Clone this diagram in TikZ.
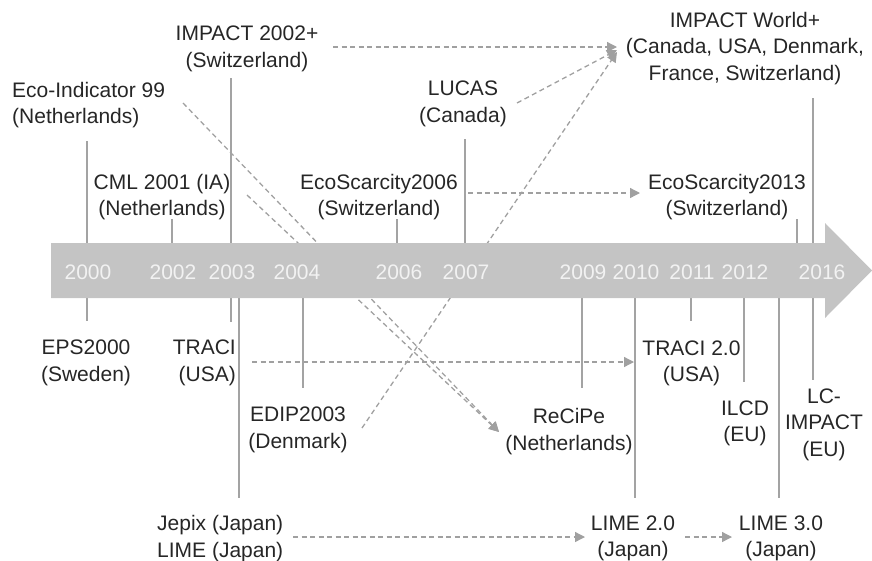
\documentclass[tikz,border=0pt]{standalone}
\usepackage{fontspec}
\setmainfont{Liberation Sans}
\usetikzlibrary{arrows.meta}
\definecolor{bandgray}{HTML}{C4C4C4}
\definecolor{stemgray}{HTML}{A3A3A3}
\definecolor{dashgray}{HTML}{A0A0A0}
\definecolor{yeartxt}{HTML}{F2F2F2}
\definecolor{labeltxt}{HTML}{262626}
\begin{document}
\begin{tikzpicture}[x=1pt,y=-1pt,
  lbl/.style={font=\fontsize{21}{26.5}\selectfont, text=labeltxt, inner sep=0pt, align=center},
  yr/.style={font=\fontsize{21}{24}\selectfont, text=yeartxt, inner sep=0pt},
  stem/.style={draw=stemgray, line width=2pt},
  dashar/.style={draw=dashgray, line width=1.3pt, dash pattern=on 5pt off 3.5pt, -{Triangle[length=10pt,width=10pt]}}
]
\useasboundingbox (0,0) rectangle (872,560);

% labels
\node[lbl] (impact02) at (247,49) {IMPACT 2002+\\(Switzerland)};
\node[lbl, anchor=west, align=left] (eco99) at (12,105) {Eco-Indicator 99\\(Netherlands)};
\node[lbl] (cml) at (162,197) {CML 2001 (IA)\\(Netherlands)};
\node[lbl] (eco06) at (379,197) {EcoScarcity2006\\(Switzerland)};
\node[lbl] (lucas) at (463,104) {LUCAS\\(Canada)};
\node[lbl] (impW) at (745,48.5) {IMPACT World+\\(Canada, USA, Denmark,\\France, Switzerland)};
\node[lbl] (eco13) at (727,197) {EcoScarcity2013\\(Switzerland)};
\node[lbl] (eps) at (86,363) {EPS2000\\(Sweden)};
\node[lbl, anchor=east, align=right] (traci) at (236,363) {TRACI\\(USA)};
\node[lbl] (edip) at (298,430) {EDIP2003\\(Denmark)};
\node[lbl, anchor=west, align=left] (jepix) at (157,538.5) {Jepix (Japan)\\LIME (Japan)};
\node[lbl] (recipe) at (569,431.5) {ReCiPe\\(Netherlands)};
\node[lbl] (traci2) at (691.5,363.5) {TRACI 2.0\\(USA)};
\node[lbl] (ilcd) at (745,423.5) {ILCD\\(EU)};
\node[lbl] (lcimpact) at (824,424.5) {LC-\\IMPACT\\(EU)};
\node[lbl] (lime2) at (633,538.5) {LIME 2.0\\(Japan)};
\node[lbl] (lime3) at (781,538.5) {LIME 3.0\\(Japan)};

% connector end points
\coordinate (impactS) at (333,47);
\coordinate (impWa) at (617,47);
\coordinate (lucasS) at (517,103);
\coordinate (impWb) at (617,50);
\coordinate (edipS) at (362,428);
\coordinate (impWc) at (617,52);
\coordinate (eco99S) at (183,103);
\coordinate (cmlS) at (247,195);
\coordinate (recipeE) at (499,432);
\coordinate (eco06S) at (468,193);
\coordinate (eco13E) at (640,193);
\coordinate (traciS) at (252,362);
\coordinate (traci2E) at (634,362);
\coordinate (jepixS) at (293,537);
\coordinate (lime2E) at (585,537);
\coordinate (lime2S) at (685,537);
\coordinate (lime3E) at (732,537);

% dashed succession arrows
\draw[dashar] (impactS) -- (impWa);
\draw[dashar] (lucasS) -- (impWb);
\draw[dashar] (edipS) -- (impWc);
\draw[dashar] (eco99S) -- (recipeE);
\draw[dashar] (cmlS) -- (recipeE);
\draw[dashar] (eco06S) -- (eco13E);
\draw[dashar] (traciS) -- (traci2E);
\draw[dashar] (jepixS) -- (lime2E);
\draw[dashar] (lime2S) -- (lime3E);

% stems above
\draw[stem] (87,141) -- (87,244);
\draw[stem] (172,219) -- (172,244);
\draw[stem] (231,78) -- (231,244);
\draw[stem] (397,219) -- (397,244);
\draw[stem] (465,139) -- (465,244);
\draw[stem] (797,219) -- (797,244);
\draw[stem] (813,98) -- (813,244);
% stems below
\draw[stem] (87,297) -- (87,321);
\draw[stem] (231,297) -- (231,322);
\draw[stem] (239,297) -- (239,498);
\draw[stem] (303,297) -- (303,388);
\draw[stem] (582,297) -- (582,388);
\draw[stem] (635,297) -- (635,498);
\draw[stem] (691,297) -- (691,321);
\draw[stem] (744,297) -- (744,382);
\draw[stem] (779,297) -- (779,498);
\draw[stem] (813,297) -- (813,380);

% timeline band
\fill[bandgray] (51,243) -- (825,243) -- (825,223) -- (872,270.5) -- (825,318) -- (825,298) -- (51,298) -- cycle;

% years
\node[yr] (y2000) at (88,272) {2000};
\node[yr] (y2002) at (173,272) {2002};
\node[yr] (y2003) at (232,272) {2003};
\node[yr] (y2004) at (297,272) {2004};
\node[yr] (y2006) at (399,272) {2006};
\node[yr] (y2007) at (466,272) {2007};
\node[yr] (y2009) at (583,272) {2009};
\node[yr] (y2010) at (636,272) {2010};
\node[yr] (y2011) at (692,272) {2011};
\node[yr] (y2012) at (745,272) {2012};
\node[yr] (y2016) at (822,272) {2016};
\end{tikzpicture}
\end{document}
